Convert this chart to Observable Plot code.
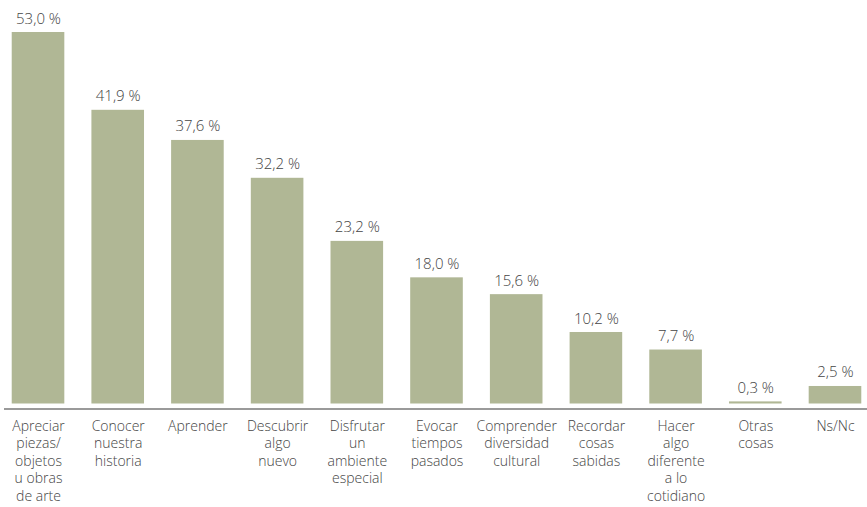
<!DOCTYPE html>
<html>
<head>
<meta charset="utf-8">
<script src="https://cdn.jsdelivr.net/npm/d3@7"></script>
<script src="https://cdn.jsdelivr.net/npm/@observablehq/plot@0.6"></script>
<style>
  html, body { margin: 0; padding: 0; background: #fff; }
  #chart svg { display: block; }
</style>
</head>
<body>
<div id="chart"></div>
<script>
const categories = [
  "Apreciar\npiezas/\nobjetos\nu obras\nde arte",
  "Conocer\nnuestra\nhistoria",
  "Aprender",
  "Descubrir\nalgo\nnuevo",
  "Disfrutar\nun\nambiente\nespecial",
  "Evocar\ntiempos\npasados",
  "Comprender\ndiversidad\ncultural",
  "Recordar\ncosas\nsabidas",
  "Hacer\nalgo\ndiferente\na lo\ncotidiano",
  "Otras\ncosas",
  "Ns/Nc"
];
const values = [53.0, 41.9, 37.6, 32.2, 23.2, 18.0, 15.6, 10.2, 7.7, 0.3, 2.5];

const data = categories.map((c, i) => ({category: c, value: values[i]}));
const fmt = v => v.toFixed(1).replace(".", ",") + " %";
const font = "'Open Sans', sans-serif";

const chart = Plot.plot({
  width: 867,
  height: 507,
  marginTop: 32,
  marginBottom: 103.5,
  marginLeft: 4,
  marginRight: 0,
  style: {fontFamily: font, background: "#fff"},
  x: {domain: categories, range: [0, 873], round: false, paddingInner: 0.34, paddingOuter: 0.147, axis: null},
  y: {domain: [0, 53], axis: null},
  marks: [
    Plot.barY(data, {x: "category", y: "value", fill: "#b0b795"}),
    Plot.ruleY([0], {dy: 5, stroke: "#9a9a9a", strokeWidth: 2}),
    Plot.text(data, {
      x: "category", y: "value", text: d => fmt(d.value),
      lineAnchor: "bottom", dy: -9, fontSize: 15, fill: "#444", fontWeight: 300
    }),
    Plot.text(data, {
      x: "category", y: 0, text: "category",
      lineAnchor: "top", dy: 14, fontSize: 14, lineHeight: 1.26, fill: "#444", fontWeight: 300
    })
  ]
});
document.getElementById("chart").appendChild(chart);
</script>
</body>
</html>
